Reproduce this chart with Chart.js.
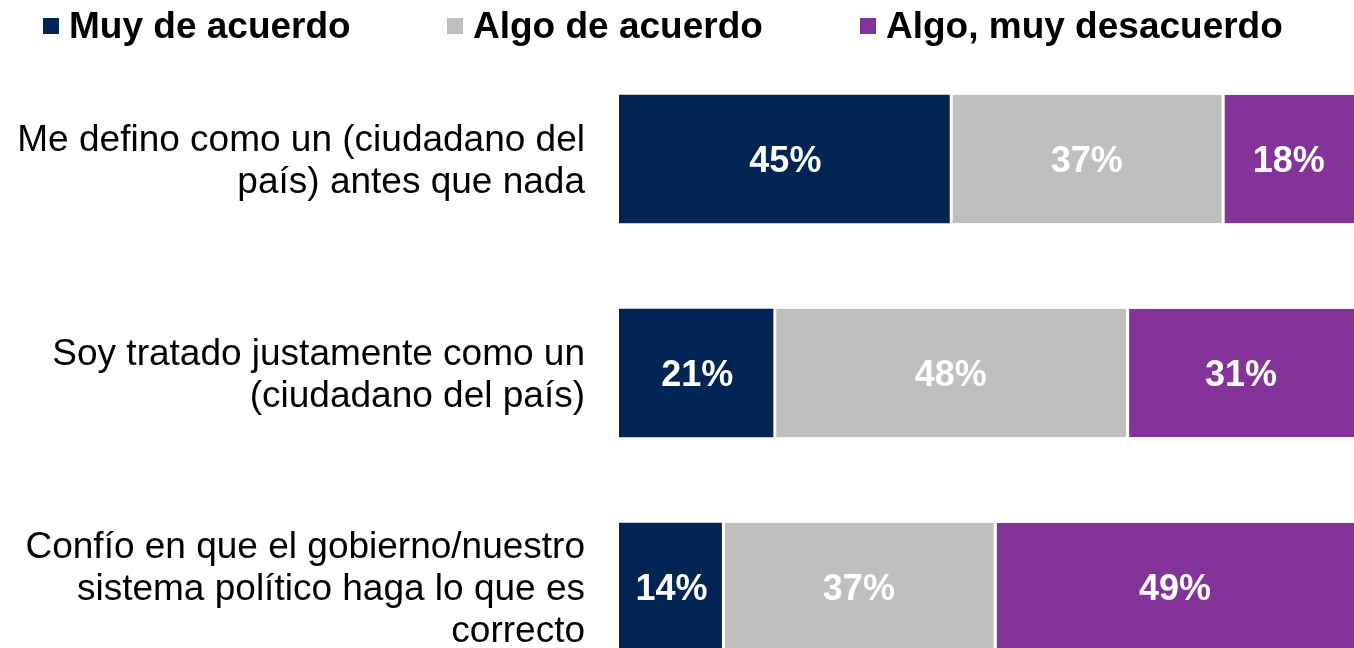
<!DOCTYPE html>
<html>
<head>
<meta charset="utf-8">
<script src="https://cdn.jsdelivr.net/npm/chart.js@4.4.1/dist/chart.umd.min.js"></script>
<style>
  html, body { margin: 0; padding: 0; background: #fff; overflow: hidden; }
  #wrap { position: relative; width: 1354px; height: 694px; }
  #legend { position: absolute; left: 0; top: 0; width: 1354px; height: 52px; }
  .item { position: absolute; top: 1px; height: 50px; display: flex; align-items: center;
    font: bold 37px "Liberation Sans", Arial, sans-serif; color: #000; white-space: nowrap; }
  .item i { display: inline-block; width: 16px; height: 16px; margin-right: 10px; }
</style>
</head>
<body>
<div id="wrap">
  <div id="legend"></div>
  <canvas id="chart" width="1354" height="694"></canvas>
</div>
<script>
// Categories (y-axis labels, split into lines)
const categories = [
  ['Me defino como un (ciudadano del', 'país) antes que nada'],
  ['Soy tratado justamente como un', '(ciudadano del país)'],
  ['Confío en que el gobierno/nuestro', 'sistema político haga lo que es', 'correcto']
];

// Series values (percent)
const muyDeAcuerdo = [45, 21, 14];
const algoDeAcuerdo = [37, 48, 37];
const desacuerdo = [18, 31, 49];

const seriesNames = ['Muy de acuerdo', 'Algo de acuerdo', 'Algo, muy desacuerdo'];
const seriesColors = ['#002554', '#BFBFBF', '#833399'];

const FONT = '"Liberation Sans", Arial, sans-serif';

// Draw the percentage inside each bar segment
const barLabels = {
  id: 'barLabels',
  afterDatasetsDraw(chart) {
    const ctx = chart.ctx;
    ctx.save();
    ctx.fillStyle = '#fff';
    ctx.font = 'bold 36px ' + FONT;
    ctx.textAlign = 'center';
    ctx.textBaseline = 'middle';
    chart.data.datasets.forEach((ds, i) => {
      chart.getDatasetMeta(i).data.forEach((bar, j) => {
        const p = bar.getCenterPoint();
        ctx.fillText(ds.data[j] + '%', p.x + 1, p.y + 3);
      });
    });
    ctx.restore();
  }
};

// white gap on the left of every segment except the first
const datasets = [muyDeAcuerdo, algoDeAcuerdo, desacuerdo].map((values, i) => ({
  label: seriesNames[i],
  data: values,
  backgroundColor: seriesColors[i],
  borderColor: '#fff',
  borderWidth: { left: i === 0 ? 0 : 3, right: 0, top: 0, bottom: 0 },
  borderSkipped: false,
  categoryPercentage: 1,
  barPercentage: 0.6
}));

const chart = new Chart(document.getElementById('chart'), {
  type: 'bar',
  data: { labels: categories, datasets: datasets },
  options: {
    indexAxis: 'y',
    responsive: false,
    animation: false,
    layout: { padding: { top: 52, right: 0, bottom: 0, left: 0 } },
    scales: {
      x: { stacked: true, min: 0, max: 100, display: false },
      y: {
        stacked: true,
        grid: { display: false, drawTicks: false },
        border: { display: false },
        ticks: {
          color: '#000',
          padding: 34,
          labelOffset: 3,
          font: { family: FONT, size: 37, lineHeight: 1.135 }
        },
        afterFit(scale) {
          scale.width = 619;
          scale.paddingTop = 0;
          scale.paddingBottom = 0;
        }
      }
    },
    plugins: {
      legend: { display: false },
      tooltip: { enabled: false }
    }
  },
  plugins: [barLabels]
});

// HTML legend built from the chart's datasets
const legendLeft = [43, 447, 860];
const legend = document.getElementById('legend');
chart.data.datasets.forEach((ds, i) => {
  const item = document.createElement('div');
  item.className = 'item';
  item.style.left = legendLeft[i] + 'px';
  item.innerHTML = `<i style="background:${ds.backgroundColor}"></i>${ds.label}`;
  legend.appendChild(item);
});
</script>
</body>
</html>
